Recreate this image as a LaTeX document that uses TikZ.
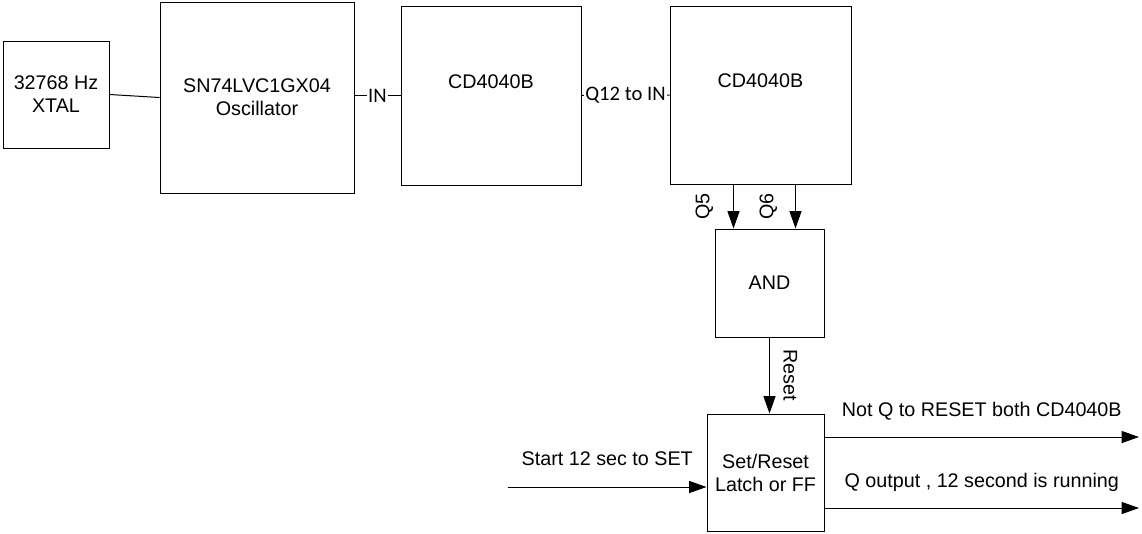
\documentclass[tikz,border=0pt]{standalone}
\usepackage{fontspec}
\setmainfont{Liberation Sans}
\newfontfamily\pinfont{Carlito}
\usetikzlibrary{arrows.meta,calc,positioning}
\definecolor{Ink}{HTML}{000000}
\tikzset{blk/.style={draw=Ink,line width=.75pt,align=center,inner sep=0pt,font=\fontsize{14.8}{17.3}\selectfont},pin/.style={fill=white,inner sep=1.2pt,font=\pinfont\fontsize{15.5}{18}\selectfont},wire/.style={draw=Ink,line width=.75pt},sig/.style={-{Triangle[length=13pt,width=9pt]},line width=.75pt,draw=Ink},tag/.style={font=\fontsize{14.8}{17.3}\selectfont,inner xsep=0pt}}

\begin{document}
\begin{tikzpicture}[x=.75pt,y=-.75pt]
  \useasboundingbox (0,0) rectangle (1142,533);
  % blocks
  \node[blk,minimum width=79.5pt,minimum height=80.25pt](xtal)at(56,94.5){32768 Hz\\XTAL};
  \node[blk,minimum width=145.5pt,minimum height=143.25pt](osc)at(257,97.5){SN74LVC1GX04\\Oscillator};
  \node[blk,minimum width=135pt,minimum height=134.25pt,label={[tag,yshift=10.5pt]center:CD4040B}](cdA)at(491,95.5){};
  \node[blk,minimum width=135.75pt,minimum height=133.5pt,label={[tag,yshift=10.5pt]center:CD4040B}](cdB)at(760.5,95){};
  \node[blk,minimum width=81.75pt,minimum height=81pt](gate)at(769.5,283){AND};
  \node[blk,minimum width=87.75pt,minimum height=87.75pt](latch)at(765.5,472.5){Set/Reset\\Latch or FF};
  % wires
  \draw[wire](xtal.east)--(osc.west);
  \draw[wire](osc.east|-cdA.west)--node[pin]{IN}(cdA.west);
  \draw[wire](cdA.east)--node[pin]{Q12 to IN}(cdB.west);
  \draw[sig]([xshift=14.25pt]gate.north west|-cdB.south)--([xshift=14.25pt]gate.north west)node[midway,tag,rotate=90,anchor=south,inner ysep=15pt]{Q5};
  \draw[sig]([xshift=-21.75pt]gate.north east|-cdB.south)--([xshift=-21.75pt]gate.north east)node[midway,tag,rotate=90,anchor=south,inner ysep=13.5pt]{Q6};
  \draw[sig](gate.south)--(gate.south|-latch.north)node[midway,tag,rotate=-90,anchor=south,inner ysep=10pt]{Reset};
  % latch in/out
  \coordinate(setin)at(508,487);
  \coordinate(nq)at(1139,437);
  \coordinate(qout)at(1139,508);
  \draw[sig](setin)--node[tag,anchor=south,inner ysep=15.5pt]{Start 12 sec to SET}(setin-|latch.west);
  \draw[sig](nq-|latch.east)--node[tag,anchor=south,inner ysep=12pt]{Not Q to RESET both CD4040B}(nq);
  \draw[sig](qout-|latch.east)--node[tag,anchor=south,inner ysep=12pt]{Q output , 12 second is running}(qout);
\end{tikzpicture}
\end{document}
